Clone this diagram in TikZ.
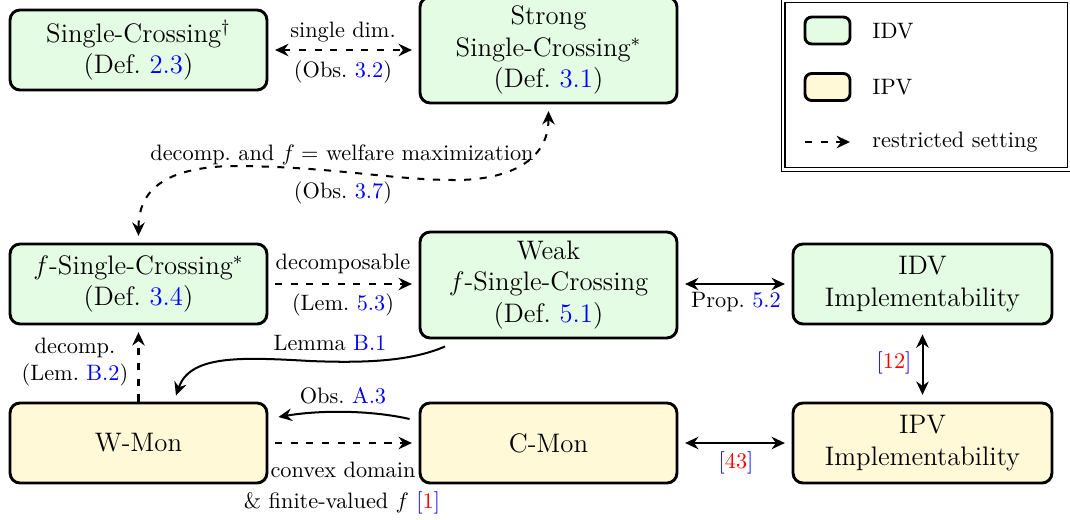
\documentclass[tikz,border=0pt]{standalone}
\usetikzlibrary{arrows.meta,calc}
\definecolor{idvfill}{RGB}{228,252,228}
\definecolor{ipvfill}{RGB}{255,249,216}
\newcommand{\bref}[1]{{\color{blue}#1}}
\newcommand{\rcite}[1]{{\color{blue}[}{\color{red}#1}{\color{blue}]}}
\begin{document}
\begin{tikzpicture}[x=0.4484pt,y=-0.4484pt,
  >={Stealth[length=6pt,width=5.6pt,inset=2pt]},
  box/.style={draw, line width=1.3pt, rounded corners=4.5pt, align=center, font=\large,
    inner sep=0pt, minimum width=115.2pt, minimum height=35.9pt},
  idv/.style={box, fill=idvfill},
  ipv/.style={box, fill=ipvfill},
  con/.style={line width=0.9pt},
  gap/.style={shorten >=3pt, shorten <=3pt},
  dashline/.style={dash pattern=on 3.2pt off 3.8pt},
  lbl/.style={font=\normalsize, inner sep=0pt, align=center},
  legbox/.style={draw, line width=1.3pt, rounded corners=3pt, minimum width=20.2pt,
    minimum height=12.1pt, inner sep=0pt},
  legtxt/.style={anchor=west, inner sep=0pt, font=\normalsize}
]
\useasboundingbox (0,0) rectangle (1070,519);

% nodes
\node[idv] (sc) at (138.5,50) {Single-Crossing$^\dagger$\\(Def.~\bref{2.3})};
\node[idv, minimum height=47.5pt] (strong) at (548.5,50) {Strong\\Single-Crossing$^*$\\(Def.~\bref{3.1})};
\node[idv] (fsc) at (138.5,284) {$f$-Single-Crossing$^*$\\(Def.~\bref{3.4})};
\node[idv, minimum height=47.5pt] (weak) at (548.5,285) {Weak\\$f$-Single-Crossing\\(Def.~\bref{5.1})};
\node[idv, minimum width=116.1pt] (idvimp) at (922.5,284) {IDV\\Implementability};
\node[ipv, minimum width=116.1pt] (ipvimp) at (922.5,443) {IPV\\Implementability};
\node[ipv] (wmon) at (138.5,443) {W-Mon};
\node[ipv] (cmon) at (548.5,443) {C-Mon};

% single crossing <-> strong
\draw[con,gap,<->,dashline] (sc.east) -- (sc.east -| strong.west);
\node[lbl] (l1a) at (343,32) {single dim.};
\node[lbl] (l1b) at (343,72) {(Obs.~\bref{3.2})};

% f-SC <-> strong (curve)
\draw[con,gap,<->,dashline] (fsc.north) .. controls (138.5,190) and (165,168) .. (230,166)
  .. controls (330,166) and (390,180) .. (455,180)
  .. controls (510,180) and (548.5,160) .. (strong.south);
\node[lbl] (l2a) at (342,155) {decomp.\ and $f=$ welfare maximization};
\node[lbl] (l2b) at (343,193) {(Obs.~\bref{3.7})};

% f-SC -> weak
\draw[con,gap,->,dashline] (fsc.east) -- (fsc.east -| weak.west);
\node[lbl] (l3a) at (343,264) {decomposable};
\node[lbl] (l3b) at (343,305) {(Lem.~\bref{5.3})};

% weak <-> IDV impl
\draw[con,gap,<->] (idvimp.west -| weak.east) -- (idvimp.west);
\node[lbl] (l4) at (736,302) {Prop.~\bref{5.2}};

% IDV <-> IPV
\draw[con,shorten <=4pt, shorten >=3pt,<->] (idvimp.south) -- (ipvimp.north);
\node[lbl] (l5) at (894,363) {\rcite{12}};

% C-Mon <-> IPV
\draw[con,gap,<->] (cmon.east) -- (ipvimp.west);
\node[lbl] (l6) at (736,463) {\rcite{43}};

% W-Mon -> C-Mon
\draw[con,gap,->,dashline] (wmon.east) -- (cmon.west);
\node[lbl] (l7a) at (343,470) {convex domain};
\node[lbl] (l7b) at (342,503) {\& finite-valued $f$ \rcite{1}};

% C-Mon -> W-Mon
\draw[con,->] ($(cmon.west)+(-9,-24)$) .. controls (370,410) and (320,410) .. ($(wmon.east)+(10,-26)$);
\node[lbl] (l8) at (343,396) {Obs.~\bref{A.3}};

% weak -> W-Mon
\draw[con,->] ($(weak.south)+(-103.5,7)$) .. controls (410,362) and (360,363) .. (310,361)
  .. controls (240,357) and (190,355) .. ($(wmon.north)+(37.5,-6)$);
\node[lbl] (l9) at (330,343) {Lemma~\bref{B.1}};

% W-Mon -> f-SC
\draw[con,shorten >=3pt,->,dashline] (wmon.north) -- (fsc.south);
\node[lbl] (l10) at (75,362) {decomp.\\(Lem.~\bref{B.2})};

% legend
\draw[line width=0.5pt] (781.5,-2) rectangle (1073,171.5);
\draw[line width=0.5pt] (785,2.5) rectangle (1067.5,167.5);
\node[legbox, fill=idvfill] (legidv) at (827.5,30.5) {};
\node[legbox, fill=ipvfill] (legipv) at (827.5,87) {};
\node[legtxt] (legidvt) at (872,31) {IDV};
\node[legtxt] (legipvt) at (872,87) {IPV};
\coordinate (lega) at (805,142);
\coordinate (legb) at (850,142);
\draw[con,->,dashline] (lega) -- (legb);
\node[legtxt] (legrt) at (872,142) {restricted setting};
\end{tikzpicture}
\end{document}
